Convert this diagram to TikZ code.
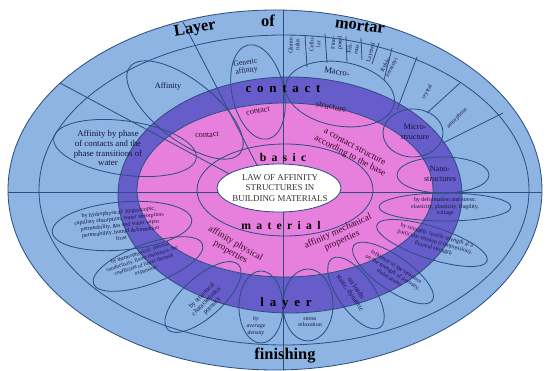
\documentclass[tikz,border=0pt]{standalone}
\usepackage{fontspec}
\setmainfont{Liberation Serif}
\usetikzlibrary{shapes.geometric}
\definecolor{mortarblue}{RGB}{142,180,227}
\definecolor{bandpurple}{RGB}{102,92,202}
\definecolor{basepink}{RGB}{230,128,220}
\definecolor{edgeblue}{RGB}{44,78,128}
\definecolor{inknavy}{RGB}{20,22,60}
\definecolor{inkmaroon}{RGB}{58,10,40}
\newcommand{\spread}[1]{{\addfontfeature{LetterSpace=45}#1}}

\begin{document}
\begin{tikzpicture}[x=0.03cm, y=-0.03cm,
        edge/.style={draw=edgeblue, line width=0.7pt},
        petal/.style={ellipse, draw=edgeblue, line width=0.7pt, inner sep=0pt},
        big/.style={font=\fontsize{14}{14}\selectfont\bfseries, inner sep=0pt},
        band/.style={font=\fontsize{11}{11}\selectfont\bfseries, inner sep=0pt},
        note/.style={font=\fontsize{7}{8}\selectfont, align=center, inner sep=0pt, text=inknavy},
        tiny/.style={font=\fontsize{5}{5.6}\selectfont, align=center, inner sep=0pt, text=inknavy},
        pinknote/.style={font=\fontsize{8}{8.6}\selectfont, align=center, inner sep=0pt, text=inkmaroon}
    ]
    \useasboundingbox (0,0) rectangle (546,371);

    % Rings
    \draw[edge, fill=mortarblue] (275,190) ellipse [x radius=267, y radius=180];
    \draw[edge] (284,190) ellipse [x radius=245, y radius=155];
    \draw[edge, fill=bandpurple] (290,195) ellipse [x radius=172, y radius=118];
    \draw[edge, fill=basepink] (285,190) ellipse [x radius=148, y radius=87];

    % Spokes
    \draw[edge] (283,10) -- (283,370);
    \draw[edge] (8,192) -- (542,192);
    \draw[edge] (183,22) -- (262,175);
    \draw[edge] (60,83) -- (250,185);

    % Sectors of the macro- and microstructure
    \foreach \xa/\ya/\xb/\yb in {305/35/307/67, 325/34/327/63, 346/36/347/62,
            361/38/362/60, 379/43/372/64, 392/48/384/80, 417/57/397/110,
            460/83/427/113, 503/113/443/143}
        \draw[edge] (\xa,\ya) -- (\xb,\yb);

    % Core
    \draw[edge] (285,190) ellipse [x radius=88, y radius=46];
    \node[ellipse, draw=edgeblue, fill=white, line width=0.7pt, minimum width=3.72cm,
        minimum height=1.44cm, inner sep=0pt] (core) at (279,188) {};
    \node[font=\fontsize{7.6}{9}\selectfont, align=center, text=black!80] (law) at (280,188)
        {LAW OF AFFINITY\\STRUCTURES IN\\BUILDING MATERIALS};

    % Petals
    \node[petal, rotate=-38, minimum width=4.2cm, minimum height=1.8cm] (affP) at (185,110) {};
    \node[petal, rotate=-78, minimum width=2.88cm, minimum height=1.56cm] (genP) at (258,92) {};
    \node[petal, rotate=-10, minimum width=3.3cm, minimum height=1.92cm] (macroP) at (340,94) {};
    \node[petal, minimum width=1.8cm, minimum height=1.44cm] (microP) at (413,133) {};
    \node[petal, minimum width=2.76cm, minimum height=1.08cm] (nanoP) at (443,175) {};
    \node[petal, minimum width=3.96cm, minimum height=0.84cm] (deformP) at (445,207) {};
    \node[petal, rotate=-18, minimum width=3.48cm, minimum height=0.96cm] (strengthP) at (432,243) {};
    \node[petal, rotate=-35, minimum width=2.88cm, minimum height=1.02cm] (inflP) at (393,273) {};
    \node[petal, rotate=-55, minimum width=2.52cm, minimum height=1.08cm] (loadsP) at (356,293) {};
    \node[petal, minimum width=1.5cm, minimum height=2.16cm] (stressP) at (308,305) {};
    \node[petal, minimum width=1.32cm, minimum height=2.16cm] (avgP) at (261,307) {};
    \node[petal, rotate=42, minimum width=2.88cm, minimum height=1.2cm] (structP) at (203,297) {};
    \node[petal, rotate=20, minimum width=3.48cm, minimum height=1.2cm] (thermP) at (148,264) {};
    \node[petal, rotate=5, minimum width=4.2cm, minimum height=1.44cm] (hydroP) at (122,226) {};
    \node[petal, rotate=-8, minimum width=4.32cm, minimum height=1.62cm] (phaseP) at (125,148) {};

    % Layer of mortar / finishing
    \node[big, rotate=10] (layerT) at (195,29) {Layer};
    \node[big] (ofT) at (268,21) {of};
    \node[big, rotate=-8] (mortarT) at (360,26) {mortar};
    \node[big] (finishT) at (285,356) {finishing};

    % Contact layer, basic material
    \node[band] (contactB) at (283,89) {\spread{contact}};
    \node[band] (layerB) at (286,303) {\spread{layer}};
    \node[band, font=\fontsize{10}{10}\selectfont\bfseries] (basicB) at (283,157) {\spread{basic}};
    \node[band, font=\fontsize{10}{10}\selectfont\bfseries] (materialB) at (281,225) {\spread{material}};

    % Upper texts
    \node[note] (affT) at (168,87) {Affinity};
    \node[note, font=\fontsize{6.5}{7}\selectfont, rotate=8] (genT) at (246,67) {Genetic\\affinity};
    \node[note, font=\fontsize{7.5}{8}\selectfont, rotate=-10] (macroT) at (337,72) {Macro-};
    \node[tiny, rotate=90] (glomT) at (294,45) {Glome-\\rulus};
    \node[tiny, rotate=90] (cellT) at (315,44) {Cellu-\\lar};
    \node[tiny, rotate=88] (fineT) at (337,43) {Fine-\\pored};
    \node[tiny, rotate=80] (fibT) at (353,49) {Fib-\\rous};
    \node[tiny, rotate=75] (layrdT) at (371,53) {Layered};
    \node[tiny, rotate=62] (ryhT) at (389,66) {Ryhlo-\\zernistyi};
    \node[tiny, rotate=60] (crysT) at (427,92) {crystal};
    \node[tiny, rotate=45] (amorT) at (457,118) {amorphous};
    \node[note] (microT) at (415,132) {Micro-\\structure};
    \node[note] (nanoT) at (440,174) {Nano-\\structures};

    % Right and lower texts
    \node[tiny] (deformT) at (445,207) {by deformation and stress:\\elasticity, plasticity, fragility,\\voltage};
    \node[tiny, rotate=-16] (strengthT) at (435,242) {by strength: tensile strength at a\\particular tension (compression),\\flexural strength};
    \node[tiny, rotate=-32] (inflT) at (393,272) {influence of the structure\\on the strength of porosity,\\dislocations};
    \node[tiny, font=\fontsize{6}{6.6}\selectfont, rotate=-55] (loadsT) at (353,291) {on loads:\\static, dynamic};
    \node[tiny] (stressT) at (310,322) {stress\\relaxation};
    \node[tiny, font=\fontsize{5}{5.8}\selectfont\itshape] (avgT) at (256,326) {by\\average\\density};
    \node[tiny, font=\fontsize{5.6}{6.2}\selectfont, rotate=45] (structT) at (207,301) {by structural\\characteristics:\\porosity};
    \node[tiny, font=\fontsize{4.7}{5.3}\selectfont, rotate=18] (thermT) at (143,262) {by thermophysical: thermal\\conductivity, flame resistance, the\\coefficient of linear thermal\\expansion};
    \node[tiny, rotate=6] (hydroT) at (120,225) {by hydrophysical: hygroscopic,\\capillary absorption, water absorption,\\permeability, gas and water vapor\\permeability, humid deformation\\frost};
    \node[note, font=\fontsize{7.5}{8.5}\selectfont] (phaseT) at (108,148) {Affinity by phase\\of contacts and the\\phase transitions of\\water};

    % Pink texts
    \node[pinknote, font=\fontsize{7}{7}\selectfont, rotate=3] (contactL) at (207,135) {contact};
    \node[pinknote, font=\fontsize{7}{7}\selectfont, rotate=10] (contactU) at (258,111) {contact};
    \node[pinknote, font=\fontsize{7.5}{7.5}\selectfont, rotate=-12] (structU) at (331,107) {structure};
    \node[pinknote, rotate=-28] (baseT) at (352,152) {a contact structure\\according to the base};
    \node[pinknote, rotate=24] (mechT) at (340,236) {affinity mechanical\\properties};
    \node[pinknote, rotate=-30] (physT) at (233,248) {affinity physical\\properties};
\end{tikzpicture}
\end{document}
